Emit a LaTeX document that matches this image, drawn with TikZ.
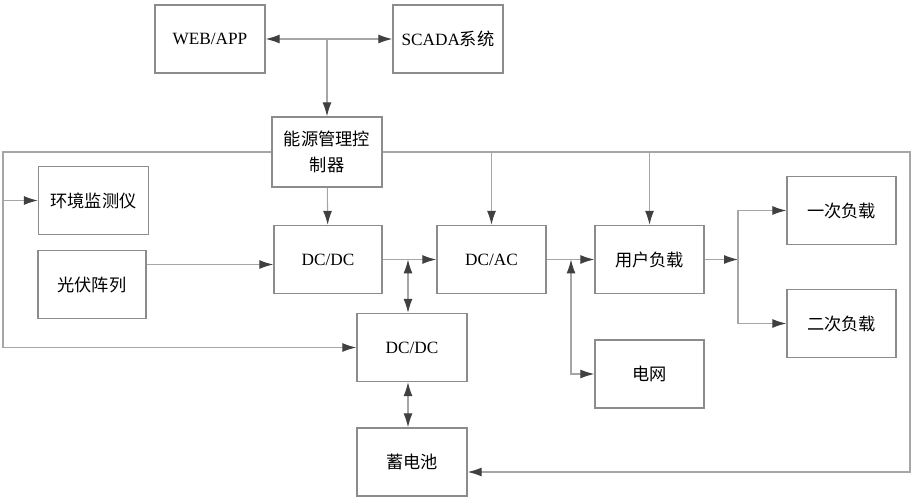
\documentclass[tikz,border=0pt]{standalone}
\usepackage{fontspec}
\setmainfont{Liberation Serif}
\newfontfamily\cjk{Noto Sans CJK SC}
\usetikzlibrary{arrows.meta}

\begin{document}
\begin{tikzpicture}[x=0.02cm, y=-0.02cm,
				   every node/.style={rectangle, draw=gray!90, line width=0.8pt, minimum width=2.2cm, minimum height=1.36cm, inner sep=1pt, align=center, font=\fontsize{9.8}{15}\selectfont},
				   tip/.style={Latex[length=2.8mm, width=1.8mm, color=black!75]},
				   wire/.style={gray!70, line width=0.6pt, -{Latex[length=2.8mm, width=1.8mm, color=black!75]}},
				   twoway/.style={gray!70, line width=0.6pt, {Latex[length=2.8mm, width=1.8mm, color=black!75]}-{Latex[length=2.8mm, width=1.8mm, color=black!75]}}]
\useasboundingbox (0,0) rectangle (916,500);

\node (web) at (210,39) {WEB/APP};
\node (scada) at (448,39) {SCADA{\cjk 系统}};
\node[minimum height=1.4cm, font=\fontsize{9.8}{15}\selectfont\cjk] (ctrl) at (327,152) {能源管理控\\制器};
\node (env) at (93.5,200.5) {\cjk 环境监测仪};
\node[minimum width=2.16cm] (pv) at (92,284.5) {\cjk 光伏阵列};
\node[minimum width=2.16cm] (dc1) at (328,259.5) {DC/DC};
\node[minimum width=2.18cm] (dcac) at (491.5,259.5) {DC/AC};
\node[minimum width=2.18cm] (user) at (649.5,259.5) {\cjk 用户负载};
\node[minimum width=2.18cm] (first) at (841.5,210.5) {\cjk 一次负载};
\node[minimum width=2.18cm] (second) at (841.5,323.5) {\cjk 二次负载};
\node (dc2) at (412,347.5) {DC/DC};
\node[minimum width=2.18cm] (grid) at (649.5,374) {\cjk 电网};
\node (bat) at (412,462) {\cjk 蓄电池};

\coordinate (lt) at (3,152);
\coordinate (rt) at (910,472);
\coordinate (jg) at (571,259.5);
\coordinate (js) at (738,259.5);
\coordinate (pvin) at ([yshift=-1mm]dc1.west);

\draw[twoway] (web) -- (scada);
\draw[wire] (web.east -| ctrl.north) -- (ctrl.north);

\draw[wire] (ctrl.west) -- (ctrl.west -| lt) |- (dc2.west);
\draw[wire] (lt |- env.west) -- (env.west);
\draw[wire] (ctrl.east) -| (rt) -- (rt -| bat.east);
\draw[wire] (ctrl.east -| dcac.north) -- (dcac.north);
\draw[wire] (ctrl.east -| user.north) -- (user.north);
\draw[wire] (ctrl) -- (dc1);

\draw[wire] (pvin -| pv.east) -- (pvin);
\draw[wire] (dc1) -- (dcac);
\draw[twoway] ([xshift=-0.8mm]dc1.east -| dc2.north) -- ([xshift=-0.8mm]dc2.north);
\draw[twoway] ([xshift=-0.8mm]dc2.south) -- ([xshift=-0.8mm]bat.north);

\draw[wire] (dcac) -- (user);
\draw[twoway] (jg) |- (grid.west);
\draw[wire] (user) -- (js);
\draw[wire] (js) |- (first.west);
\draw[wire] (js) |- (second.west);
\end{tikzpicture}
\end{document}
